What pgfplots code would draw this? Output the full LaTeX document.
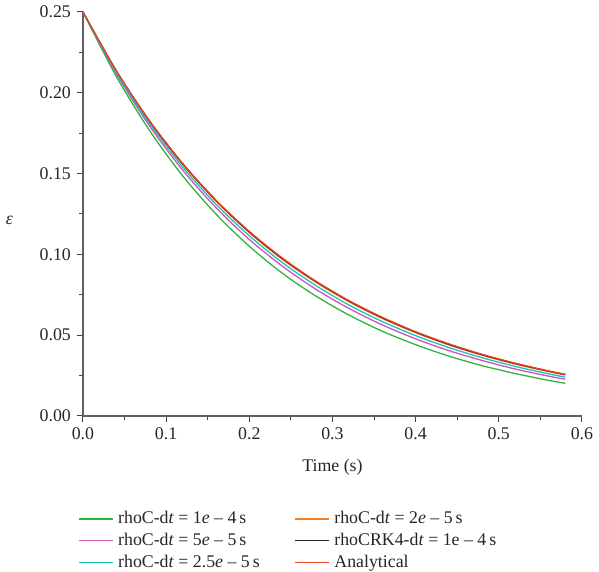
\documentclass[border=0pt]{standalone}
\usepackage{pgfplots}
\pgfplotsset{compat=1.18}
\usepackage{fontspec}
\setmainfont{Liberation Serif}
\definecolor{cgreen}{RGB}{44,180,60}
\definecolor{cmag}{RGB}{200,85,185}
\definecolor{ccyan}{RGB}{30,190,195}
\definecolor{corange}{RGB}{250,130,30}
\definecolor{cred}{RGB}{235,65,35}
\definecolor{axgray}{RGB}{95,95,95}
\begin{document}
\fontsize{18}{21}\selectfont
\begin{tikzpicture}
\begin{axis}[
  width=504pt, height=408pt, scale only axis,
  xmin=0, xmax=0.6, ymin=0, ymax=0.25,
  axis x line*=bottom, axis y line*=left,
  axis line style={axgray, line width=1.4pt},
  xtick={0,0.1,...,0.6}, ytick={0,0.05,...,0.25},
  minor tick num=1,
  tick align=outside,
  major tick length=6pt, minor tick length=4pt,
  every tick/.style={black!75, line width=1pt},
  /pgf/number format/assume math mode=true,
  xticklabel style={/pgf/number format/.cd, fixed, fixed zerofill, precision=1},
  yticklabel style={/pgf/number format/.cd, fixed, fixed zerofill, precision=2},
  tick label style={font=\fontsize{18}{21}\selectfont, text=black!85},
  xlabel={Time (s)}, xlabel style={font=\fontsize{18}{21}\selectfont, text=black!85, yshift=-7pt},
  ylabel={\itshape ε}, ylabel style={rotate=-90, font=\fontsize{18}{21}\selectfont, text=black!85, at={(-0.128,0.485)}},
  legend columns=2,
  legend cell align=left,
  legend style={draw=none, at={(-0.01,-0.232)}, anchor=north west, font=\fontsize{18}{21}\selectfont, text=black!85,
    /tikz/every even column/.append style={column sep=30pt}, row sep=4pt, inner sep=0pt,
    nodes={inner xsep=5pt, inner ysep=1.5pt}},
  legend image code/.code={\draw[#1, line width=1.4pt] (0pt,0pt) -- (34pt,0pt);},
  every axis plot/.append style={line width=1.3pt, smooth},
]
\addplot[cgreen] coordinates {(0,0.25) (0.04,0.2102) (0.08,0.1767) (0.12,0.1485) (0.16,0.1249) (0.20,0.1050) (0.24,0.0882) (0.28,0.0742) (0.32,0.0624) (0.36,0.0524) (0.40,0.0441) (0.44,0.0370) (0.48,0.0311) (0.52,0.0262) (0.56,0.0220) (0.58,0.0202)};
\addlegendentry{rhoC-d\textit{t} = 1\textit{e} -- 4\,s}
\addplot[corange] coordinates {(0,0.25) (0.04,0.2135) (0.08,0.1822) (0.12,0.1556) (0.16,0.1329) (0.20,0.1134) (0.24,0.0968) (0.28,0.0827) (0.32,0.0706) (0.36,0.0603) (0.40,0.0515) (0.44,0.0439) (0.48,0.0375) (0.52,0.0320) (0.56,0.0274) (0.58,0.0253)};
\addlegendentry{rhoC-d\textit{t} = 2\textit{e} -- 5\,s}
\addplot[cmag] coordinates {(0,0.25) (0.04,0.2119) (0.08,0.1795) (0.12,0.1521) (0.16,0.1289) (0.20,0.1092) (0.24,0.0926) (0.28,0.0784) (0.32,0.0665) (0.36,0.0563) (0.40,0.0477) (0.44,0.0404) (0.48,0.0343) (0.52,0.0290) (0.56,0.0246) (0.58,0.0227)};
\addlegendentry{rhoC-d\textit{t} = 5\textit{e} -- 5\,s}
\addplot[black!85] coordinates {(0,0.25) (0.04,0.2136) (0.08,0.1825) (0.12,0.1560) (0.16,0.1333) (0.20,0.1139) (0.24,0.0973) (0.28,0.0832) (0.32,0.0711) (0.36,0.0607) (0.40,0.0519) (0.44,0.0443) (0.48,0.0379) (0.52,0.0324) (0.56,0.0277) (0.58,0.0256)};
\addlegendentry{rhoCRK4-d\textit{t} = 1e -- 4\,s}
\addplot[ccyan] coordinates {(0,0.25) (0.04,0.2127) (0.08,0.1810) (0.12,0.1540) (0.16,0.1310) (0.20,0.1115) (0.24,0.0948) (0.28,0.0807) (0.32,0.0686) (0.36,0.0584) (0.40,0.0497) (0.44,0.0423) (0.48,0.0360) (0.52,0.0306) (0.56,0.0260) (0.58,0.0240)};
\addlegendentry{rhoC-d\textit{t} = 2.5\textit{e} -- 5\,s}
\addplot[cred] coordinates {(0,0.25) (0.04,0.2137) (0.08,0.1827) (0.12,0.1562) (0.16,0.1335) (0.20,0.1142) (0.24,0.0976) (0.28,0.0834) (0.32,0.0713) (0.36,0.0610) (0.40,0.0521) (0.44,0.0446) (0.48,0.0381) (0.52,0.0326) (0.56,0.0278) (0.58,0.0257)};
\addlegendentry{Analytical}
\end{axis}
\end{tikzpicture}
\end{document}
